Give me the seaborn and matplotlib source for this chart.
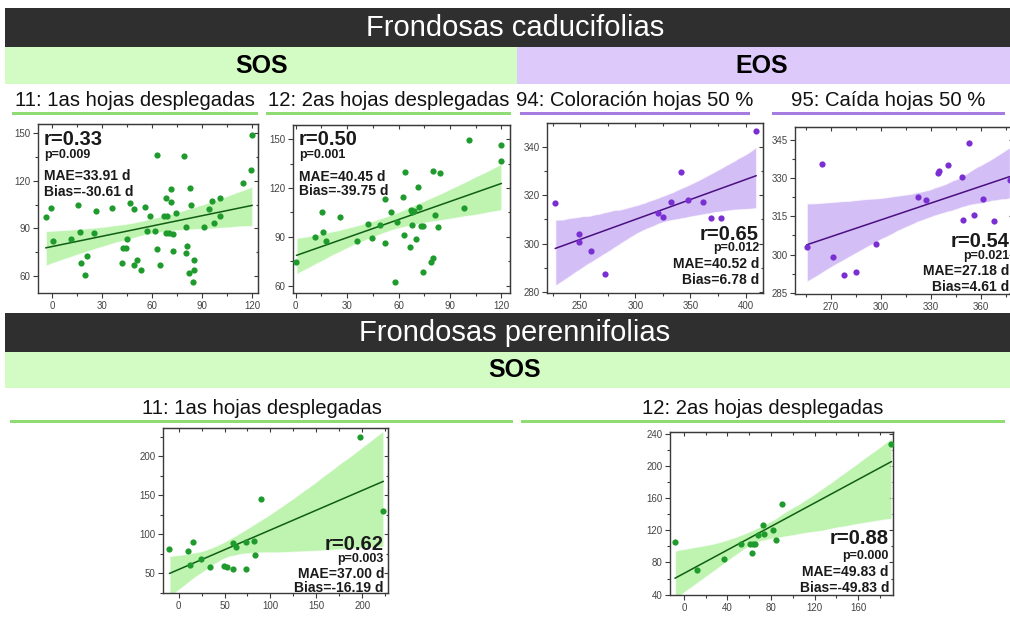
import numpy as np
import pandas as pd
import matplotlib
matplotlib.use("Agg")
import matplotlib.pyplot as plt
import seaborn as sns
from matplotlib.patches import Rectangle
from matplotlib.ticker import MultipleLocator, FixedLocator, NullFormatter
from matplotlib.collections import PolyCollection

# ---------------- data ----------------
p1_x = [-4, -0.6, 0.6, 11, 15.4, 16.4, 17, 20.6, 19.6, 25, 26.4, 35.6, 41.6, 42.6, 44, 44.6, 46.6, 49, 49, 51,
        53, 55.4, 57, 58.6, 61.4, 62.6, 63, 64.6, 67, 68, 69, 68, 70, 71.4, 71, 72.6, 72.6, 74, 79, 80,
        80, 81, 82.6, 83.4, 82, 85, 85, 84.4, 91, 94, 97, 96, 100.4, 100.6, 114.6, 119, 120]
p1_y = [96.9, 102.5, 82, 83, 105, 87.9, 68, 72.6, 60.7, 86.8, 101, 103, 68.4, 77.4, 77.4, 83, 106, 102, 67, 70.1,
        63.8, 103.6, 88.5, 97.7, 88.5, 76.8, 136, 67, 97.7, 109.4, 97.7, 86.8, 86.8, 106.3, 115, 86.4, 76, 99.4, 135.4, 90.6,
        74.7, 78.9, 115.7, 105, 61.7, 70.1, 63.8, 56.5, 90.6, 101.9, 93.5, 107.3, 97.7, 109.4, 118.6, 127, 149]

p2_x = [0.4, 11, 15.4, 16, 17.5, 26, 35.8, 42.2, 44.5, 52.3, 49, 52, 55.3, 57.8, 58.8, 62.3, 63, 63.6, 66.5, 67,
        68, 68.9, 68, 70.4, 71.4, 72, 72.8, 74.3, 74, 79, 80, 79.8, 81, 83, 84, 98, 101, 120, 120]
p2_y = [74.6, 90, 105.4, 93.1, 87.6, 102.4, 87.4, 97.8, 89.6, 113, 97.2, 86.3, 105.4, 62.3, 99.3, 114.3, 91, 130, 83.5, 106.5,
        105.4, 106, 97.2, 88.4, 120.4, 108.5, 96.6, 96.6, 68.5, 74.6, 77.3, 130.7, 103.4, 96.2, 129, 108, 149.6, 146.5, 136.9]

p3_x = [227.4, 249.4, 249.4, 260, 272.6, 320.2, 324.7, 332.2, 341, 347.3, 361.4, 368.4, 378, 409.6]
p3_y = [316.7, 304, 300.8, 297.1, 287.3, 312.6, 311.2, 317.3, 329.6, 318.1, 317.3, 310.8, 310.8, 346.4]

p4_x = [255.6, 265, 271.2, 278, 285, 297, 322.2, 327, 334.6, 335.2, 340.6, 348.6, 349.6, 353.2, 356.2, 361.6, 368.2, 377.6]
p4_y = [303, 335.5, 299, 291.9, 293.1, 304, 322.6, 321.4, 331.9, 332.8, 334.9, 330.3, 313.6, 343.8, 315.5, 321.9, 313, 329]

p5_x = [-10, 10, 12.9, 15.5, 24, 34.3, 49.8, 52.7, 59, 59, 62.7, 73.8, 73.8, 83, 82.2, 89.6, 198, 223]
p5_y = [81, 78, 61, 89.7, 68.4, 57.7, 59, 58, 56, 89, 83.3, 55.6, 90, 74, 91, 145.7, 224.8, 129.5]

p6_x = [-8.3, 11.6, 36.7, 52, 60.6, 62.1, 63, 65.1, 68.2, 72.8, 73.4, 81.4, 84.4, 89.6, 190.6]
p6_y = [105.6, 71.1, 84.8, 103, 103, 91.9, 103, 103, 113.9, 126.3, 115.5, 120.9, 108.5, 152.9, 227.6]

titles_top = ["11: 1as hojas desplegadas", "12: 2as hojas desplegadas",
              "94: Coloración hojas 50 %", "95: Caída hojas 50 %"]
titles_bottom = ["11: 1as hojas desplegadas", "12: 2as hojas desplegadas"]
group_titles = ["Frondosas caducifolias", "Frondosas perennifolias"]
phase_labels = ["SOS", "EOS"]

stats_text = [
    ["r=0.33", "p=0.009", "MAE=33.91 d", "Bias=-30.61 d"],
    ["r=0.50", "p=0.001", "MAE=40.45 d", "Bias=-39.75 d"],
    ["r=0.65", "p=0.012", "MAE=40.52 d", "Bias=6.78 d"],
    ["r=0.54", "p=0.021", "MAE=27.18 d", "Bias=4.61 d"],
    ["r=0.62", "p=0.003", "MAE=37.00 d", "Bias=-16.19 d"],
    ["r=0.88", "p=0.000", "MAE=49.83 d", "Bias=-49.83 d"],
]

# ---------------- style ----------------
sns.set_style("white")
plt.rcParams['font.family'] = ['Liberation Sans', 'DejaVu Sans']

W, H = 1010, 621
fig = plt.figure(figsize=(W / 100, H / 100), dpi=100)
fig.patch.set_facecolor("white")

DARK = "#2f2f2f"
GREEN_BAND = "#d3fbc4"
PURPLE_BAND = "#ddc9fa"
GREEN_LINE = "#8fdc74"
PURPLE_LINE = "#a67ce0"

G_PT = "#1f9a2c"
G_FILL = "#a8ef96"
G_REG = "#0f5e14"
P_PT = "#7a2fd2"
P_FILL = "#c6a8f3"
P_REG = "#4a0f80"
SPINE = "#3a3a3a"


def rect(x0, y0, x1, y1, color):
    fig.patches.append(Rectangle((x0 / W, 1 - y1 / H), (x1 - x0) / W, (y1 - y0) / H,
                                 transform=fig.transFigure, facecolor=color, edgecolor="none", zorder=0))


def ftext(x, y, s, **kw):
    fig.text(x / W, 1 - y / H, s, ha="center", va="center", **kw)


# header bands
rect(5, 8, 1010, 47, DARK)
ftext(515, 28, group_titles[0], color="white", fontsize=21)
rect(5, 47, 517, 84, GREEN_BAND)
rect(517, 47, 1010, 84, PURPLE_BAND)
ftext(262, 66, phase_labels[0], fontsize=18, fontweight="bold", color="black")
ftext(762, 66, phase_labels[1], fontsize=18, fontweight="bold", color="black")

rect(5, 313, 1010, 352, DARK)
ftext(515, 333, group_titles[1], color="white", fontsize=21)
rect(5, 352, 1010, 388, GREEN_BAND)
ftext(515, 370, phase_labels[0], fontsize=18, fontweight="bold", color="black")

# subtitles + underlines
top_sub = [(12, 258, GREEN_LINE), (266, 511, GREEN_LINE), (520, 750, PURPLE_LINE), (772, 1005, PURPLE_LINE)]
for (x0, x1, c), t in zip(top_sub, titles_top):
    ftext((x0 + x1) / 2, 101, t, fontsize=14.6, color="#111111")
    rect(x0, 112, x1, 115, c)
bot_sub = [(10, 513, GREEN_LINE), (521, 1005, GREEN_LINE)]
for (x0, x1, c), t in zip(bot_sub, titles_bottom):
    ftext((x0 + x1) / 2, 409, t, fontsize=14.6, color="#111111")
    rect(x0, 420, x1, 423, c)


def add_ax(x0, y0, x1, y1):
    return fig.add_axes([x0 / W, 1 - y1 / H, (x1 - x0) / W, (y1 - y0) / H])


panels = [
    dict(box=(38, 124, 258, 293), x=p1_x, y=p1_y, pt=G_PT, fill=G_FILL, reg=G_REG,
         xlim=(-8.6, 123.4), ylim=(49.3, 155.7), xt=[0, 30, 60, 90, 120], xm=15,
         yt=[60, 90, 120, 150], ym=15, corner="tl", offs=[-6, -25, -45, -61]),
    dict(box=(293, 125, 510, 293), x=p2_x, y=p2_y, pt=G_PT, fill=G_FILL, reg=G_REG,
         xlim=(-1.6, 125), ylim=(55.5, 158.8), xt=[0, 30, 60, 90, 120], xm=15,
         yt=[60, 90, 120, 150], ym=15, corner="tl", offs=[-5, -24, -45, -59]),
    dict(box=(547, 123, 763, 293), x=p3_x, y=p3_y, pt=P_PT, fill=P_FILL, reg=P_REG,
         xlim=(220, 415.7), ylim=(279.6, 349.9), xt=[250, 300, 350, 400], xm=25,
         yt=[280, 300, 320, 340], ym=10, corner="br", offs=[68, 51, 36, 20]),
    dict(box=(795, 127, 1013, 294), x=p4_x, y=p4_y, pt=P_PT, fill=P_FILL, reg=P_REG,
         xlim=(248.6, 379.4), ylim=(284.6, 349.9), xt=[270, 300, 330, 360], xm=15,
         yt=[285, 300, 315, 330, 345], ym=7.5, corner="br", offs=[62, 44, 30, 14]),
    dict(box=(163, 428, 388, 593), x=p5_x, y=p5_y, pt=G_PT, fill=G_FILL, reg=G_REG,
         xlim=(-17, 228), ylim=(24.8, 236), xt=[0, 50, 100, 150, 200], xm=25,
         yt=[50, 100, 150, 200], ym=25, corner="br", offs=[58, 40, 26, 12]),
    dict(box=(670, 432, 893, 595), x=p6_x, y=p6_y, pt=G_PT, fill=G_FILL, reg=G_REG,
         xlim=(-12.8, 192), ylim=(39.4, 243), xt=[0, 40, 80, 120, 160], xm=20,
         yt=[40, 80, 120, 160, 200, 240], ym=20, corner="br", offs=[66, 45, 30, 14]),
]

for i, p in enumerate(panels):
    ax = add_ax(*p["box"])
    df = pd.DataFrame({"x": p["x"], "y": p["y"]})
    sns.regplot(data=df, x="x", y="y", ax=ax, ci=95, seed=0,
                scatter_kws=dict(s=20, color=p["pt"], linewidths=0, alpha=1, zorder=3),
                line_kws=dict(color=p["reg"], lw=1.1, zorder=2))
    for coll in ax.collections:
        if isinstance(coll, PolyCollection):
            coll.set_facecolor(p["fill"])
            coll.set_alpha(0.75)
            coll.set_zorder(1)
    ax.set_xlim(*p["xlim"])
    ax.set_ylim(*p["ylim"])
    ax.set_xlabel("")
    ax.set_ylabel("")
    ax.xaxis.set_major_locator(FixedLocator(p["xt"]))
    ax.yaxis.set_major_locator(FixedLocator(p["yt"]))
    ax.xaxis.set_minor_locator(MultipleLocator(p["xm"]))
    ax.yaxis.set_minor_locator(MultipleLocator(p["ym"]))
    for s in ax.spines.values():
        s.set_color(SPINE)
        s.set_linewidth(1.0)
        s.set_visible(True)
    ax.tick_params(which="both", bottom=True, left=True, top=False, right=False,
                   color=SPINE, width=0.8, direction="out")
    ax.tick_params(which="major", length=3.5, labelsize=7, labelcolor="#444444", pad=2)
    ax.tick_params(which="minor", length=2)

    # mirrored inward ticks on top/right
    sx = ax.secondary_xaxis("top")
    sx.xaxis.set_major_locator(FixedLocator(p["xt"]))
    sx.xaxis.set_minor_locator(MultipleLocator(p["xm"]))
    sx.xaxis.set_major_formatter(NullFormatter())
    sx.tick_params(which="both", direction="in", color=SPINE, width=0.8)
    sx.tick_params(which="major", length=3)
    sx.tick_params(which="minor", length=1.8)
    sx.spines["top"].set_color(SPINE)
    sy = ax.secondary_yaxis("right")
    sy.yaxis.set_major_locator(FixedLocator(p["yt"]))
    sy.yaxis.set_minor_locator(MultipleLocator(p["ym"]))
    sy.yaxis.set_major_formatter(NullFormatter())
    sy.tick_params(which="both", direction="in", color=SPINE, width=0.8)
    sy.tick_params(which="major", length=3)
    sy.tick_params(which="minor", length=1.8)
    sy.spines["right"].set_color(SPINE)
    ax.set_facecolor("white")

    lines = stats_text[i]
    sizes = [14.5, 9, 10, 10]
    weights = ["bold", "bold", "bold", "bold"]
    for txt, off, fs, fw in zip(lines, p["offs"], sizes, weights):
        if p["corner"] == "tl":
            ax.annotate(txt, xy=(0, 1), xycoords="axes fraction", xytext=(6, off),
                        textcoords="offset pixels", ha="left", va="top",
                        fontsize=fs, fontweight=fw, color="#1a1a1a", zorder=5)
        else:
            ax.annotate(txt, xy=(1, 0), xycoords="axes fraction", xytext=(-4, off),
                        textcoords="offset pixels", ha="right", va="top",
                        fontsize=fs, fontweight=fw, color="#1a1a1a", zorder=5)

fig.savefig("out.png", dpi=100, facecolor="white")
